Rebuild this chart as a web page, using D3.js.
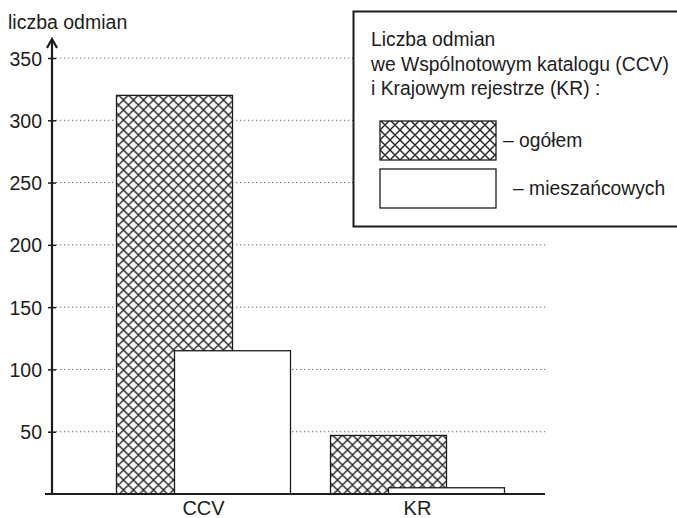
<!DOCTYPE html>
<html><head><meta charset="utf-8">
<script src="https://cdn.jsdelivr.net/npm/d3@7"></script>
<style>
body{margin:0;background:#fff;}
svg{display:block;font-family:"Liberation Sans",Arial,sans-serif;}
</style></head>
<body>
<svg id="c" width="677" height="518"></svg>
<script>
const categories = ["CCV", "KR"];
const seriesNames = ["ogółem", "mieszańcowych"];
const ogolem = [320, 47];
const mieszancowych = [115, 5];
const yTicks = [50, 100, 150, 200, 250, 300, 350];
const yLabel = "liczba odmian";
const legendTitle = ["Liczba odmian", "we Wspólnotowym katalogu (CCV)", "i Krajowym rejestrze (KR) :"];
const legendLabels = ["– ogółem", "– mieszańcowych"];

const svg = d3.select("#c");
const ink = "#1c1c1c";
const defs = svg.append("defs");
const pat = defs.append("pattern").attr("id","hatch").attr("patternUnits","userSpaceOnUse")
  .attr("width",10).attr("height",10);
pat.append("rect").attr("width",10).attr("height",10).attr("fill","#fff");
pat.append("path").attr("d","M0,0L10,10M10,0L0,10M-5,5L5,15M5,-5L15,5M5,15L15,5M-5,5L5,-5")
  .attr("stroke","#222").attr("stroke-width",1.4);

const y = d3.scaleLinear().domain([0,350]).range([494,58]);
const x = d3.scaleBand().domain(categories).range([96.5,524.5]);
const sub = d3.scalePoint().domain(seriesNames).range([-29,29]);
const barW = 116;
const axisX = 52, gridEnd = 545;

// gridlines
svg.append("g").selectAll("line").data(yTicks).join("line")
  .attr("x1",axisX).attr("x2",gridEnd).attr("y1",d=>y(d)).attr("y2",d=>y(d))
  .attr("stroke","#666").attr("stroke-width",1).attr("stroke-dasharray","1.3,2.7");

// bars
const data = categories.map((c,i)=>({c, vals:[{s:seriesNames[0],v:ogolem[i]},{s:seriesNames[1],v:mieszancowych[i]}]}));
const g = svg.append("g").selectAll("g").data(data).join("g")
  .attr("transform",d=>`translate(${x(d.c)+x.bandwidth()/2},0)`);
g.selectAll("rect").data(d=>d.vals).join("rect")
  .attr("x",d=>sub(d.s)-barW/2).attr("width",barW)
  .attr("y",d=>y(d.v)).attr("height",d=>y(0)-y(d.v))
  .attr("fill",d=>d.s===seriesNames[0]?"url(#hatch)":"#fff")
  .attr("stroke",ink).attr("stroke-width",1.3);

// y axis
const ax = svg.append("g").attr("transform",`translate(${axisX},0)`)
  .call(d3.axisLeft(y).tickValues(yTicks).tickSize(4).tickPadding(6));
ax.select(".domain").remove();
ax.selectAll(".tick line").attr("x1",-4).attr("x2",4).attr("stroke",ink).attr("stroke-width",1.5);
ax.selectAll(".tick text").attr("font-size",19.5).attr("fill",ink)
  .attr("font-family","Liberation Sans, Arial, sans-serif").attr("dy","0.36em");
svg.append("line").attr("x1",axisX).attr("x2",axisX).attr("y1",y(0)+1).attr("y2",40)
  .attr("stroke",ink).attr("stroke-width",2.2);
svg.append("path").attr("d",`M${axisX-5},48L${axisX},39L${axisX+5},48`)
  .attr("fill","none").attr("stroke",ink).attr("stroke-width",2.2);
// baseline
svg.append("line").attr("x1",45).attr("x2",gridEnd).attr("y1",y(0)).attr("y2",y(0))
  .attr("stroke",ink).attr("stroke-width",2.2);

// x labels
svg.append("g").selectAll("text").data(categories).join("text")
  .attr("x",d=>x(d)+x.bandwidth()/2).attr("y",515).attr("text-anchor","middle")
  .attr("font-size",20).attr("fill",ink).text(d=>d);

svg.append("text").attr("x",8).attr("y",29).attr("font-size",19.5).attr("fill",ink).text(yLabel);

// legend
const lg = svg.append("g");
lg.append("rect").attr("x",353.5).attr("y",11.5).attr("width",340).attr("height",215)
  .attr("fill","#fff").attr("stroke",ink).attr("stroke-width",2);
lg.selectAll("text.t").data(legendTitle).join("text").attr("class","t")
  .attr("x",371).attr("y",(d,i)=>46+i*24.7).attr("font-size",19.3).attr("fill",ink).text(d=>d);
const items = [{fill:"url(#hatch)",y:121,label:legendLabels[0],tx:503,ty:147},
               {fill:"#fff",y:169,label:legendLabels[1],tx:513,ty:195}];
lg.selectAll("rect.sw").data(items).join("rect").attr("class","sw")
  .attr("x",380).attr("y",d=>d.y).attr("width",116).attr("height",39)
  .attr("fill",d=>d.fill).attr("stroke",ink).attr("stroke-width",1.3);
lg.selectAll("text.l").data(items).join("text").attr("class","l")
  .attr("x",d=>d.tx).attr("y",d=>d.ty).attr("font-size",19.3).attr("fill",ink).text(d=>d.label);
</script>
</body></html>
